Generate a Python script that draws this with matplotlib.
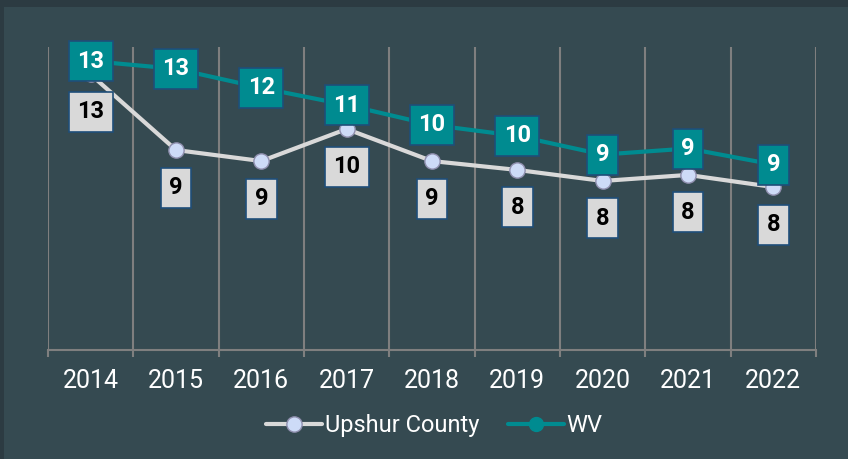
import matplotlib as mpl
mpl.use('Agg')
import matplotlib.pyplot as plt
from matplotlib.patches import Rectangle
from matplotlib.ticker import FixedLocator

plt.rcParams['font.family'] = ['Roboto', 'DejaVu Sans']

# values (labels show the rounded value)
years = ['2014', '2015', '2016', '2017', '2018', '2019', '2020', '2021', '2022']
upshur = [12.73, 9.24, 8.73, 10.21, 8.73, 8.32, 7.81, 8.09, 7.53]
wv = [13.35, 12.99, 12.11, 11.32, 10.40, 9.89, 9.03, 9.31, 8.57]

BG = '#354a51'
BORDER = '#2c3b42'
GRID = '#7f7f7f'
TEAL = '#008b90'
LGRAY = '#d9d9d9'
EDGE = '#1f4e79'

fig = plt.figure(figsize=(8.48, 4.59), dpi=100, facecolor=BORDER)
fig.add_artist(Rectangle((4 / 848, 0), 1, 1 - 7 / 459, transform=fig.transFigure,
                         facecolor=BG, edgecolor='none', zorder=-10))
ax = fig.add_axes([48 / 848, 1 - 350 / 459, 768 / 848, 303 / 459])
ax.set_facecolor('none')

x = list(range(len(years)))

ax.plot(x, wv, color=TEAL, lw=3, marker='o', ms=10, mfc=TEAL, mec=TEAL,
        label='WV', zorder=3, solid_capstyle='round')
ax.plot(x, upshur, color=LGRAY, lw=3, marker='o', ms=11, mfc='#cddbf7', mec='#8f8fae',
        mew=1, label='Upshur County', zorder=4, solid_capstyle='round')

# data labels
for xi, v in zip(x, upshur):
    ax.annotate('%.0f' % v, (xi, v), xytext=(0, -27), textcoords='offset points',
                ha='center', va='center', fontsize=17, fontweight='bold', color='black',
                bbox=dict(boxstyle='square,pad=0.36', fc=LGRAY, ec=EDGE, lw=1.2), zorder=6)
for xi, v in zip(x, wv):
    ax.annotate('%.0f' % v, (xi, v), xytext=(0, 0), textcoords='offset points',
                ha='center', va='center', fontsize=17, fontweight='bold', color='white',
                bbox=dict(boxstyle='square,pad=0.36', fc=TEAL, ec=EDGE, lw=1.2), zorder=7)

ax.set_xlim(-0.5, len(years) - 0.5)
ax.set_ylim(0, 14)

# gridlines / ticks between categories, labels at the centres
bounds = [i - 0.5 for i in range(len(years) + 1)]
ax.xaxis.set_major_locator(FixedLocator(bounds))
ax.xaxis.set_minor_locator(FixedLocator(x))
ax.set_xticklabels([''] * len(bounds))
ax.set_xticklabels(years, minor=True)
ax.tick_params(axis='x', which='major', length=5, width=1.5, color=GRID, direction='out')
ax.tick_params(axis='x', which='minor', length=0, pad=14, labelsize=18, labelcolor='white')
ax.grid(axis='x', which='major', color=GRID, lw=1.5)
ax.set_axisbelow(True)
ax.set_yticks([])

for s in ['left', 'right', 'top']:
    ax.spines[s].set_visible(False)
ax.spines['bottom'].set_color(GRID)
ax.spines['bottom'].set_linewidth(1.5)

leg = fig.legend(handles=ax.get_lines()[::-1], loc='center', bbox_to_anchor=(0.512, 0.072),
                 ncol=2, frameon=False, fontsize=17, handlelength=2.4, handletextpad=0.1,
                 columnspacing=1.2, labelcolor='white')

fig.savefig('out.png', dpi=100, facecolor=fig.get_facecolor())
